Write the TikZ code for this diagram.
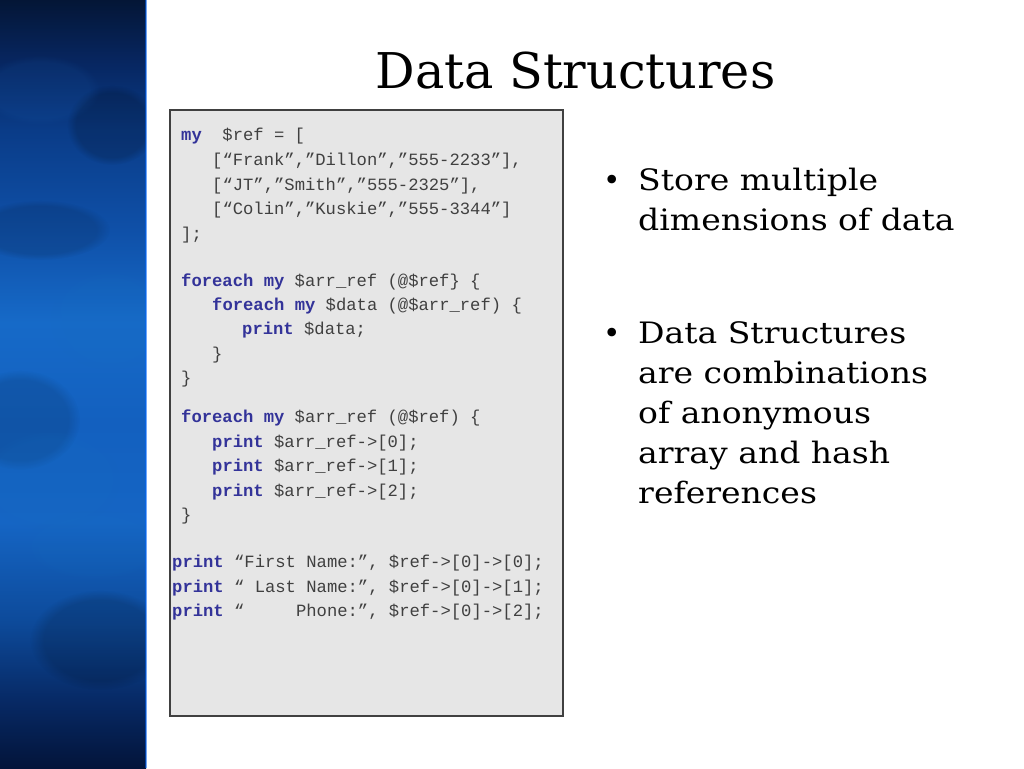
\documentclass[tikz,border=0pt]{standalone}
\usepackage{fontspec}
\setmainfont{DejaVu Serif}
\newfontfamily\bulfont{DejaVu Serif}[FakeStretch=1.12]
\newfontfamily\codefont{Liberation Mono}
\usetikzlibrary{fadings}
\definecolor{kwblue}{HTML}{333399}
\definecolor{codegray}{HTML}{404040}
\definecolor{boxfill}{HTML}{E6E6E6}
\definecolor{boxline}{HTML}{404040}
\definecolor{bA}{HTML}{03143A}
\definecolor{bB}{HTML}{072A66}
\definecolor{bC}{HTML}{0D4A9A}
\definecolor{bD}{HTML}{1565C4}
\definecolor{bE}{HTML}{1360BF}
\definecolor{bF}{HTML}{166AC8}
\definecolor{bG}{HTML}{0F50A8}
\definecolor{bH}{HTML}{0A3C88}
\definecolor{bI}{HTML}{072660}
\definecolor{bJ}{HTML}{041636}
% stops are placed in the 25bp--75bp band that TikZ fits to the path
\pgfdeclareverticalshading{bandshade}{100bp}{color(0bp)=(bA); color(25bp)=(bA); color(29.5bp)=(bB); color(34.5bp)=(bC); color(41bp)=(bD); color(47.5bp)=(bE); color(54bp)=(bF); color(60bp)=(bG); color(66.5bp)=(bH); color(71bp)=(bI); color(75bp)=(bJ); color(100bp)=(bJ)}
\newcommand{\kw}[1]{\textcolor{kwblue}{\bfseries #1}}
\begin{document}
\begin{tikzpicture}[x=1pt,y=-1pt,
  code/.style={anchor=base west, inner sep=0pt, font=\codefont\fontsize{17.2}{20}\selectfont, text=codegray},
  bul/.style={anchor=base west, inner sep=0pt, font=\bulfont\fontsize{29.5}{40}\selectfont, text=black},
  dot/.style={anchor=base west, inner sep=0pt, font=\fontsize{29.5}{40}\selectfont, text=black},
  blob/.style={path fading=circle with fuzzy edge 20 percent}]
\useasboundingbox (0,0) rectangle (1024,768);
\fill[white] (0,0) rectangle (1024,768);
% blue band
\shade[shading=bandshade] (0,0) rectangle (146,768);
\begin{scope}
\clip (0,0) rectangle (146,768);
\fill[black, opacity=0.18, blob] (112,125) ellipse (45 and 40);
\fill[black, opacity=0.12, blob] (40,230) ellipse (70 and 30);
\fill[black, opacity=0.12, blob] (20,420) ellipse (60 and 50);
\fill[black, opacity=0.15, blob] (100,640) ellipse (70 and 50);
\fill[cyan!50!blue, opacity=0.15, blob] (110,320) ellipse (60 and 50);
\fill[cyan!50!blue, opacity=0.15, blob] (50,480) ellipse (70 and 50);
\fill[cyan!50!blue, opacity=0.12, blob] (95,545) ellipse (70 and 35);
\fill[cyan!40!blue, opacity=0.12, blob] (40,90) ellipse (60 and 35);
\end{scope}
\draw[blue!60!cyan, opacity=0.5, line width=1.5pt] (146,0) -- (146,768);
% title
\node[font=\fontsize{49.3}{58}\selectfont, anchor=base, inner sep=0pt] (title) at (575.5,88) {Data Structures};
% code box
\draw[boxline, fill=boxfill, line width=1.5pt] (170,110) rectangle (563,716);
\node[code] (c1) at (181,140) {\kw{my}\ \ \$ref = [};
\node[code] (c2) at (212,165) {[“Frank”,”Dillon”,”555-2233”],};
\node[code] (c3) at (212,190) {[“JT”,”Smith”,”555-2325”],};
\node[code] (c4) at (212,214) {[“Colin”,”Kuskie”,”555-3344”]};
\node[code] (c5) at (181,239) {];};
\node[code] (c6) at (181,286) {\kw{foreach my} \$arr\_ref (@\$ref\} \{};
\node[code] (c7) at (212,310) {\kw{foreach my} \$data (@\$arr\_ref) \{};
\node[code] (c8) at (242,334) {\kw{print} \$data;};
\node[code] (c9) at (212,359) {\}};
\node[code] (c10) at (181,383) {\}};
\node[code] (c11) at (181,422) {\kw{foreach my} \$arr\_ref (@\$ref) \{};
\node[code] (c12) at (212,447) {\kw{print} \$arr\_ref->[0];};
\node[code] (c13) at (212,471) {\kw{print} \$arr\_ref->[1];};
\node[code] (c14) at (212,496) {\kw{print} \$arr\_ref->[2];};
\node[code] (c15) at (181,520) {\}};
\node[code] (c16) at (172,567) {\kw{print} “First Name:”, \$ref->[0]->[0];};
\node[code] (c17) at (172,592) {\kw{print} “\ Last Name:”, \$ref->[0]->[1];};
\node[code] (c18) at (172,616) {\kw{print} “\ \ \ \ \ Phone:”, \$ref->[0]->[2];};
% bullets
\node[dot] (d1) at (603,190) {•};
\node[bul] (b1a) at (638,190) {Store multiple};
\node[bul] (b1b) at (638,230) {dimensions of data};
\node[dot] (d2) at (603,343) {•};
\node[bul] (b2a) at (638,343) {Data Structures};
\node[bul] (b2b) at (638,383) {are combinations};
\node[bul] (b2c) at (638,423) {of anonymous};
\node[bul] (b2d) at (638,463) {array and hash};
\node[bul] (b2e) at (638,503) {references};
\end{tikzpicture}
\end{document}
